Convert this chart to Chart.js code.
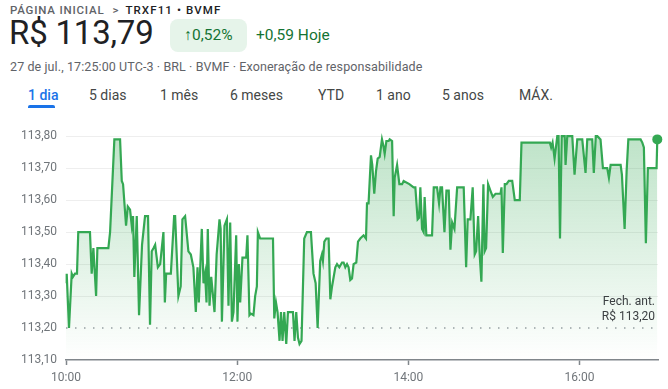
<!DOCTYPE html>
<html lang="pt-BR">
<head>
<meta charset="utf-8">
<script src="https://cdn.jsdelivr.net/npm/chart.js@4/dist/chart.umd.min.js"></script>
<style>
  html, body { margin: 0; padding: 0; background: #fff; }
  body { width: 668px; height: 389px; position: relative; overflow: hidden; font-family: Roboto, Arial, sans-serif; }
  .abs { position: absolute; white-space: nowrap; }
  .crumb { left: 10px; top: 3px; font-size: 11.5px; letter-spacing: 0.8px; font-weight: 500; color: #5f6368; }
  .crumb b { color: #202124; font-weight: 500; letter-spacing: 1.1px; }
  .crumb .sep { margin: 0 7px 0 8px; letter-spacing: 0; }
  .price { left: 9px; top: 13px; font-size: 33px; color: #202124; letter-spacing: -0.2px; }
  .badge { left: 170px; top: 19px; width: 77px; height: 33px; border-radius: 8px; background: #e6f4ea; color: #137333; font-size: 15.5px; line-height: 33px; text-align: center; }
  .badge span { font-weight: 700; }
  .hoje { left: 256px; top: 26px; font-size: 15.5px; color: #137333; }
  .info { left: 10px; top: 59px; font-size: 12.5px; letter-spacing: 0.1px; color: #5f6368; }
  .tab { top: 87px; font-size: 14px; color: #444746; }
  .tab.on { color: #1a73e8; font-weight: 500; }
  .underline { left: 28px; top: 105px; width: 27px; height: 3px; background: #1a73e8; border-radius: 2px 2px 0 0; }
  .prev { right: 13px; top: 294px; font-size: 12px; line-height: 15px; color: #3c4043; text-align: right; }
  #wrap { position: absolute; left: 0; top: 120px; width: 668px; height: 269px; }
</style>
</head>
<body>
<div class="abs crumb">PÁGINA INICIAL<span class="sep">&gt;</span><b>TRXF11 • BVMF</b></div>
<div class="abs price">R$ 113,79</div>
<div class="abs badge"><span>↑</span>0,52%</div>
<div class="abs hoje">+0,59 Hoje</div>
<div class="abs info">27 de jul., 17:25:00 UTC-3 · BRL · BVMF · Exoneração de responsabilidade</div>
<div class="abs tab on" style="left:28px">1 dia</div>
<div class="abs underline"></div>
<div class="abs tab" style="left:89px">5 dias</div>
<div class="abs tab" style="left:160px">1 mês</div>
<div class="abs tab" style="left:230px">6 meses</div>
<div class="abs tab" style="left:318px">YTD</div>
<div class="abs tab" style="left:376px">1 ano</div>
<div class="abs tab" style="left:442px">5 anos</div>
<div class="abs tab" style="left:519px">MÁX.</div>
<div id="wrap"><canvas id="grafico"></canvas></div>
<div class="abs prev">Fech. ant.<br>R$ 113,20</div>

<script>
// minutos desde 10:00
const minutos = [0, 0.5, 2.1, 4, 4.9, 6.3, 7.7, 8.6, 16.8, 18, 19.2, 21.1, 22, 29.7, 30.9, 33.9, 37.9, 39.1, 40, 42.1,
  43.3, 44.9, 46.1, 47, 47.9, 49.6, 51.2, 53.3, 55.4, 57.5, 58.9, 60.1, 61.4, 62.5, 64.4, 66, 68.3, 69.3, 70.2, 73.5,
  75.8, 76.5, 78.8, 80.4, 81.6, 83.5, 85.8, 87.5, 89.3, 91, 92.2, 93.1, 95.2, 96.4, 97.5, 98.5, 99.4, 100.6, 101.8, 104.1,
  105.6, 107.6, 108.4, 109.3, 111.1, 112.8, 113.9, 115.1, 116.3, 117.4, 119.3, 120.2, 121.2, 122.1, 123.7, 126.3, 127.2, 128.6, 129.6, 131.4,
  132.6, 133.8, 134.5, 136.1, 145.1, 146, 147.2, 148.3, 149.7, 150.7, 151.8, 153, 154.4, 155.6, 159.1, 160.2, 161.4, 162.6, 163.7, 165.1,
  167, 168.9, 171.7, 173.5, 175, 176.4, 178.2, 179.4, 180.1, 181.1, 182.5, 184.1, 185.3, 186.5, 188.8, 190, 191.6, 193.5, 194.6, 195.8,
  197, 198.1, 199.3, 200.5, 201.6, 203.5, 204.7, 206.3, 208.6, 210.3, 211, 212.1, 213.8, 214.7, 216.1, 217.3, 218.5, 219.9, 221.5, 222.5,
  223.4, 224.6, 226.2, 226.9, 228.6, 229.7, 230.4, 232.1, 233.7, 235.6, 236.7, 240.7, 243.7, 244.9, 246.5, 247.5, 248.4, 249.6, 250.7, 251.4,
  252.6, 256.6, 257.8, 260.1, 261.5, 262.5, 263.6, 265.3, 266.7, 268.3, 269.5, 270.7, 272.3, 274.2, 278.8, 280.5, 281.6, 283.5, 285.1, 286.5,
  287.5, 288.9, 290, 291.2, 292.6, 293.5, 294.5, 295.9, 297.5, 299.2, 301.1, 304.6, 305.3, 306.2, 307.6, 308.8, 310.4, 312.8, 314.6, 318.1,
  319.3, 339.2, 340.1, 341.1, 342.5, 344.4, 345.3, 346.3, 347.5, 349.6, 350.2, 351.4, 354.9, 356.5, 358.4, 361.9, 364.2, 365.4, 368.9, 370,
  371.4, 372.5, 374.7, 376.4, 378, 379.4, 380.6, 381.8, 388.8, 389.7, 391.6, 393, 394.2, 402.8, 404, 405.1, 406.5, 407.9, 414, 414.5];

const precos = [113.34, 113.37, 113.20, 113.37, 113.36, 113.37, 113.37, 113.50, 113.50, 113.37, 113.45, 113.30, 113.45, 113.45, 113.50, 113.79, 113.79, 113.66, 113.65, 113.52,
  113.58, 113.57, 113.52, 113.55, 113.36, 113.55, 113.24, 113.46, 113.55, 113.55, 113.21, 113.44, 113.45, 113.46, 113.39, 113.40, 113.50, 113.28, 113.37, 113.37,
  113.55, 113.55, 113.30, 113.33, 113.54, 113.55, 113.44, 113.43, 113.39, 113.25, 113.39, 113.28, 113.51, 113.34, 113.37, 113.28, 113.51, 113.27, 113.36, 113.25,
  113.43, 113.54, 113.51, 113.22, 113.52, 113.54, 113.27, 113.53, 113.22, 113.25, 113.49, 113.22, 113.40, 113.28, 113.42, 113.42, 113.49, 113.24, 113.245, 113.24,
  113.30, 113.33, 113.50, 113.48, 113.48, 113.23, 113.28, 113.25, 113.16, 113.25, 113.16, 113.25, 113.15, 113.25, 113.25, 113.16, 113.25, 113.17, 113.15, 113.16,
  113.48, 113.50, 113.50, 113.37, 113.34, 113.20, 113.41, 113.43, 113.41, 113.47, 113.48, 113.48, 113.29, 113.33, 113.39, 113.40, 113.39, 113.405, 113.405, 113.39,
  113.40, 113.39, 113.35, 113.355, 113.40, 113.405, 113.47, 113.48, 113.49, 113.48, 113.59, 113.59, 113.74, 113.71, 113.62, 113.69, 113.73, 113.735, 113.79, 113.77,
  113.745, 113.785, 113.785, 113.79, 113.785, 113.55, 113.67, 113.71, 113.65, 113.65, 113.66, 113.65, 113.64, 113.64, 113.54, 113.545, 113.64, 113.51, 113.50, 113.61,
  113.49, 113.49, 113.64, 113.64, 113.59, 113.64, 113.64, 113.50, 113.63, 113.63, 113.445, 113.53, 113.51, 113.64, 113.64, 113.39, 113.54, 113.54, 113.64, 113.43,
  113.44, 113.55, 113.43, 113.345, 113.65, 113.44, 113.45, 113.65, 113.63, 113.61, 113.62, 113.62, 113.64, 113.435, 113.65, 113.65, 113.66, 113.66, 113.60, 113.60,
  113.78, 113.78, 113.765, 113.78, 113.73, 113.80, 113.80, 113.48, 113.80, 113.80, 113.71, 113.80, 113.80, 113.68, 113.79, 113.79, 113.685, 113.79, 113.79, 113.685,
  113.80, 113.80, 113.79, 113.70, 113.70, 113.70, 113.67, 113.71, 113.71, 113.68, 113.51, 113.69, 113.79, 113.79, 113.78, 113.765, 113.465, 113.70, 113.70, 113.79];

const fechamentoAnterior = 113.20;

const ticksX = [0, 120, 240, 360];
const rotulosX = ['10:00', '12:00', '14:00', '16:00'];
const ticksY = [113.10, 113.20, 113.30, 113.40, 113.50, 113.60, 113.70, 113.80];
const rotulosY = ['113,10', '113,20', '113,30', '113,40', '113,50', '113,60', '113,70', '113,80'];

const pontos = minutos.map((m, i) => ({ x: m, y: precos[i] }));
const ultimo = pontos.length - 1;

const ctx = document.getElementById('grafico').getContext('2d');

new Chart(ctx, {
  type: 'line',
  data: {
    datasets: [
      {
        data: pontos,
        borderColor: '#34a853',
        borderWidth: 2.2,
        tension: 0,
        fill: 'start',
        backgroundColor: (c) => {
          const area = c.chart.chartArea;
          if (!area) return 'rgba(52,168,83,0.15)';
          const g = c.chart.ctx.createLinearGradient(0, area.top, 0, area.bottom);
          g.addColorStop(0, 'rgba(52,168,83,0.32)');
          g.addColorStop(1, 'rgba(52,168,83,0)');
          return g;
        },
        pointRadius: (c) => c.dataIndex === ultimo ? 5 : 0,
        pointBackgroundColor: '#34a853',
        pointBorderWidth: 0,
        clip: false,
        order: 1
      },
      {
        data: [{ x: 0, y: fechamentoAnterior }, { x: 415, y: fechamentoAnterior }],
        borderColor: '#9aa0a6',
        borderWidth: 1.5,
        borderDash: [1.5, 7.5],
        pointRadius: 0,
        fill: false,
        order: 2
      }
    ]
  },
  options: {
    responsive: true,
    maintainAspectRatio: false,
    animation: false,
    events: [],
    layout: { padding: { top: 16, right: 10, left: 0, bottom: 0 } },
    plugins: { legend: { display: false }, tooltip: { enabled: false } },
    scales: {
      x: {
        type: 'linear',
        min: 0,
        max: 415,
        afterBuildTicks: (s) => { s.ticks = ticksX.map(v => ({ value: v })); },
        afterFit: (s) => { s.height = 29; },
        grid: { drawOnChartArea: false, drawTicks: true, tickLength: 5, color: '#80868b', tickWidth: 1.5 },
        border: { display: true, color: '#80868b', width: 1.5 },
        ticks: {
          padding: 6,
          color: '#70757a',
          font: { family: 'Roboto', size: 12 },
          maxRotation: 0,
          callback: (v) => rotulosX[ticksX.indexOf(v)]
        }
      },
      y: {
        min: 113.10,
        max: 113.80,
        afterBuildTicks: (s) => { s.ticks = ticksY.map(v => ({ value: v })); },
        afterFit: (s) => { s.width = 66; },
        grid: {
          drawTicks: false,
          color: (c) => (c.index <= 1 ? 'rgba(0,0,0,0)' : '#eeeeee'),
          lineWidth: 1
        },
        border: { display: false },
        ticks: {
          padding: 9,
          color: '#70757a',
          font: { family: 'Roboto', size: 12 },
          callback: (v, i) => rotulosY[i]
        }
      }
    }
  }
});
</script>
</body>
</html>
